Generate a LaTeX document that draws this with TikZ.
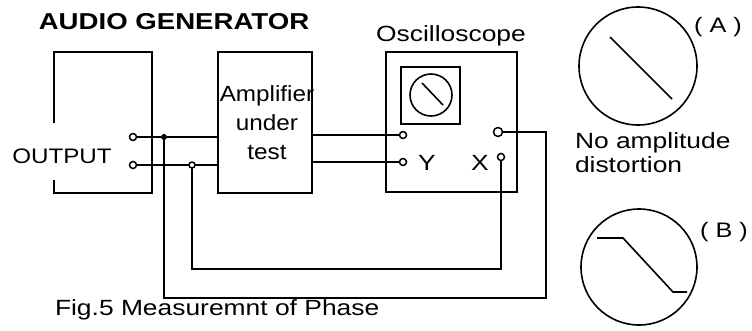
\documentclass[tikz,border=0pt]{standalone}
\usepackage{fontspec}
\setmainfont{Liberation Sans}
\usetikzlibrary{positioning}

\begin{document}
\begin{tikzpicture}[x=1pt, y=-1pt, line width=1.6pt,
    every node/.style = {inner sep=0pt, outer sep=0pt},
    lbl/.style = {font=\fontsize{22}{24}\selectfont, xscale=1.2},
    unit/.style = {draw, rectangle},
    term/.style = {draw, circle, line width=1.5pt, fill=white, minimum size=#1},
    term/.default = 7pt,
    dot/.style = {circle, fill, minimum size=6pt}
    ]
    \useasboundingbox (0,0) rectangle (752,330);
    % boxes
    \node[minimum width=98pt, minimum height=141pt] (gen) at (103,122.5) {};
    \node[unit, minimum width=94pt, minimum height=141pt] (amp) at (265,122.5) {};
    \node[unit, minimum width=131pt, minimum height=140pt] (osc) at (451.5,122) {};
    \node[unit, minimum width=59pt, minimum height=57pt] (scope) at (430.5,95.5) {};
    \node[draw, circle, minimum size=42pt] (crt) at (431,95) {};
    \node[draw, circle, minimum size=118pt] (scrA) at (638,66) {};
    \node[draw, circle, minimum size=116pt] (scrB) at (639,267) {};
    \draw (gen.west) -- (gen.north west) -- (gen.north east) -- (gen.south east)
        -- (gen.south west) -- ([yshift=-57.5pt]gen.west);
    % terminals
    \node[term] (outA) at (133,137) {};
    \node[term] (outB) at (133,165) {};
    \node[dot] (j1) at (164,137) {};
    \node[term=6pt] (j2) at (192,165) {};
    \node[term] (yA) at (403,135) {};
    \node[term] (yB) at (403,162) {};
    \node[term=9pt] (xA) at (498,132) {};
    \node[term] (xB) at (501,157) {};
    \coordinate (bendA) at (546,298);
    \coordinate (bendB) at (501,269);
    % wiring
    \draw (outA) -- (j1) -- (j1 -| amp.west);
    \draw (outB) -- (j2) -- (j2 -| amp.west);
    \draw (yA -| amp.east) -- (yA);
    \draw (yB -| amp.east) -- (yB);
    \draw (xA) -| (bendA) -| (j1);
    \draw (xB) -- (bendB) -| (j2);
    % traces
    \draw (422,83) -- (443,105);
    \draw (610,37) -- (672,99);
    \draw (597,238) -- (623,238) -- (673,292) -- (687,292);
    % labels
    \node[lbl, font=\fontsize{23}{26}\selectfont\bfseries, anchor=base] (title) at (174,29) {AUDIO GENERATOR};
    \node[lbl, font=\fontsize{21}{24}\selectfont, xscale=0.96, anchor=base] (outLbl) at (62,163) {OUTPUT};
    \node[lbl, anchor=base] (oscLbl) at (451,41) {Oscilloscope};
    \node[lbl, font=\fontsize{22}{29}\selectfont, xscale=0.92, align=center] (ampLbl) at (267,123) {Amplifier\\under\\test};
    \node[lbl, anchor=base] (yLbl) at (427,170) {Y};
    \node[lbl, anchor=base] (xLbl) at (480,170) {X};
    \node[lbl, align=left, anchor=north west] (noDist) at (575,133) {No amplitude\\distortion};
    \node[lbl, anchor=base west] (caption) at (55,315) {Fig.5 Measuremnt of Phase};
    \node[lbl, font=\fontsize{21}{24}\selectfont, anchor=base] (tagA) at (718,32) {( A )};
    \node[lbl, font=\fontsize{21}{24}\selectfont, anchor=base] (tagB) at (724,237) {( B )};
\end{tikzpicture}
\end{document}
